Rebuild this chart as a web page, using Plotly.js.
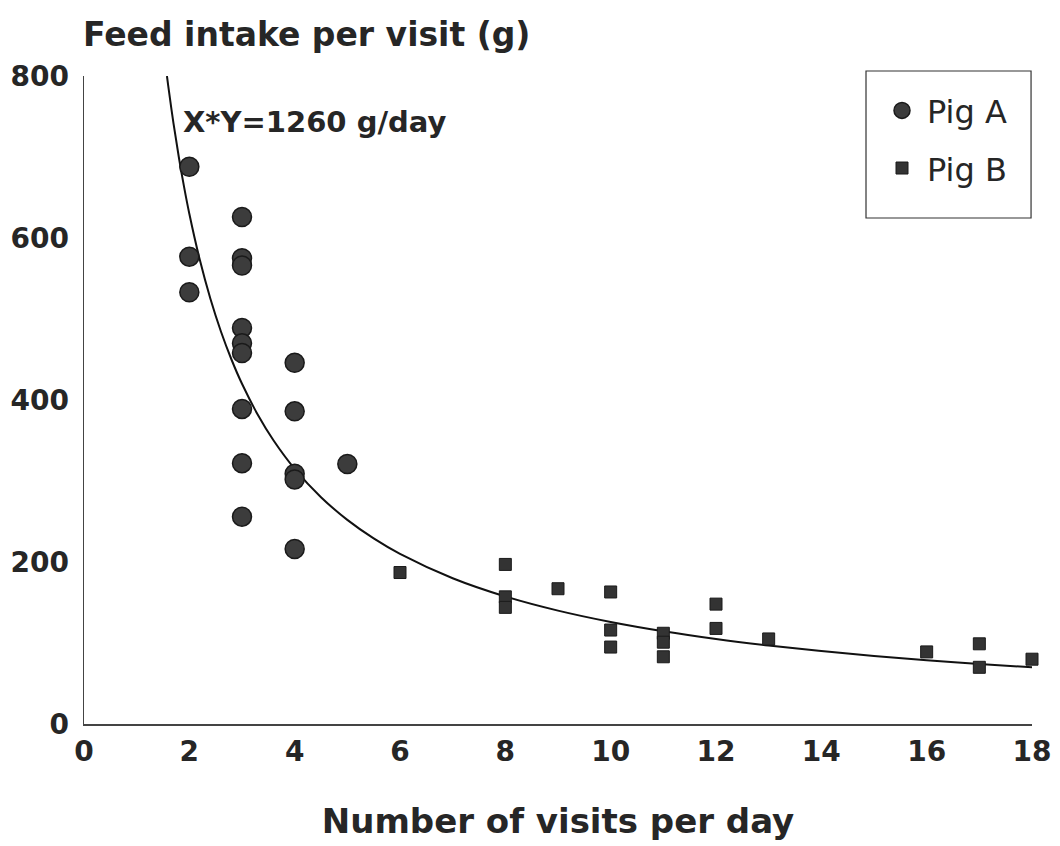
<!DOCTYPE html>
<html>
<head>
<meta charset="utf-8">
<script src="https://cdn.plot.ly/plotly-3.0.1.min.js"></script>
<style>html,body{margin:0;padding:0;background:#fff;}#chart{width:1060px;height:846px;}</style>
</head>
<body>
<div id="chart"></div>
<script>
// Pig A (circles)
const pigA_x = [2, 2, 2, 3, 3, 3, 3, 3, 3, 3, 3, 3, 4, 4, 4, 4, 4, 5];
const pigA_y = [688, 577, 533, 626, 575, 566, 489, 470, 458, 389, 322, 256, 446, 386, 309, 302, 216, 321];

// Pig B (squares)
const pigB_x = [6, 8, 8, 8, 9, 10, 10, 10, 11, 11, 11, 12, 12, 13, 16, 17, 17, 18];
const pigB_y = [187, 197, 157, 144, 167, 163, 116, 95, 112, 101, 83, 148, 118, 105, 89, 99, 70, 80];

// Fitted curve X*Y = 1260 g/day
const K = 1260;
const curveX = [1.575, 1.6, 1.7, 1.8, 1.9, 2, 2.2, 2.4, 2.6, 2.8, 3, 3.3, 3.6, 4, 4.5, 5, 5.5, 6, 7, 8, 9, 10, 11, 12, 13, 14, 15, 16, 17, 18];
const curveY = curveX.map(x => K / x);

const xTicks = [0, 2, 4, 6, 8, 10, 12, 14, 16, 18];
const yTicks = [0, 200, 400, 600, 800];

const font = "DejaVu Sans, Liberation Sans, sans-serif";
const ink = "#262626";

const traces = [
  {
    x: curveX, y: curveY, mode: "lines", type: "scatter",
    line: {color: "#111", width: 2, shape: "spline"},
    showlegend: false, hoverinfo: "skip", cliponaxis: true
  },
  {
    x: pigA_x, y: pigA_y, mode: "markers", type: "scatter", name: "Pig A",
    legendgroup: "a",
    marker: {symbol: "circle", size: 19, color: "#3c3c3c", line: {color: "#1a1a1a", width: 1.5}},
    cliponaxis: false
  },
  {
    x: pigB_x, y: pigB_y, mode: "markers", type: "scatter", name: "Pig B",
    legendgroup: "b",
    marker: {symbol: "square", size: 12, color: "#333", line: {color: "#1a1a1a", width: 1}},
    cliponaxis: false
  }
];

const layout = {
  width: 1060, height: 846,
  paper_bgcolor: "#fff", plot_bgcolor: "#fff",
  margin: {l: 84, r: 28, t: 76, b: 122},
  showlegend: true,
  legend: {
    x: 0.8365, xanchor: "left", y: 0.989, yanchor: "top",
    borderwidth: 0, bgcolor: "rgba(0,0,0,0)",
    font: {family: font, size: 32, color: ink},
    traceorder: "grouped", tracegroupgap: 13,
    itemsizing: "trace", itemwidth: 40
  },
  shapes: [
    {
      type: "rect", xref: "paper", yref: "paper",
      x0: 0.8249, x1: 0.999, y0: 0.7809, y1: 1.0077,
      line: {color: "#333", width: 1.2}, fillcolor: "rgba(0,0,0,0)"
    }
  ],
  xaxis: {
    range: [0, 18], tickvals: xTicks, ticktext: xTicks.map(String),
    showline: true, linecolor: "#444", linewidth: 1.5,
    showgrid: false, zeroline: false, ticks: "", ticklabelstandoff: 2,
    tickfont: {family: font, size: 28, color: ink, weight: "bold"},
    title: {text: "Number of visits per day", font: {family: font, size: 34, color: ink, weight: "bold"}, standoff: 42}
  },
  yaxis: {
    range: [0, 800], tickvals: yTicks, ticktext: yTicks.map(String),
    showline: true, linecolor: "#444", linewidth: 1.5,
    showgrid: false, zeroline: false, ticks: "", ticklabelstandoff: 8,
    tickfont: {family: font, size: 28, color: ink, weight: "bold"}
  },
  annotations: [
    {
      text: "Feed intake per visit (g)", xref: "paper", yref: "paper",
      x: -0.003, y: 1.0, xanchor: "left", yanchor: "bottom", yshift: 20,
      showarrow: false, font: {family: font, size: 33, color: ink, weight: "bold"}
    },
    {
      text: "X*Y=1260 g/day", xref: "x", yref: "y",
      x: 1.85, y: 743, xanchor: "left", yanchor: "middle",
      showarrow: false, font: {family: font, size: 29, color: ink, weight: "bold"}
    }
  ]
};

Plotly.newPlot("chart", traces, layout, {staticPlot: true, displayModeBar: false});
</script>
</body>
</html>
